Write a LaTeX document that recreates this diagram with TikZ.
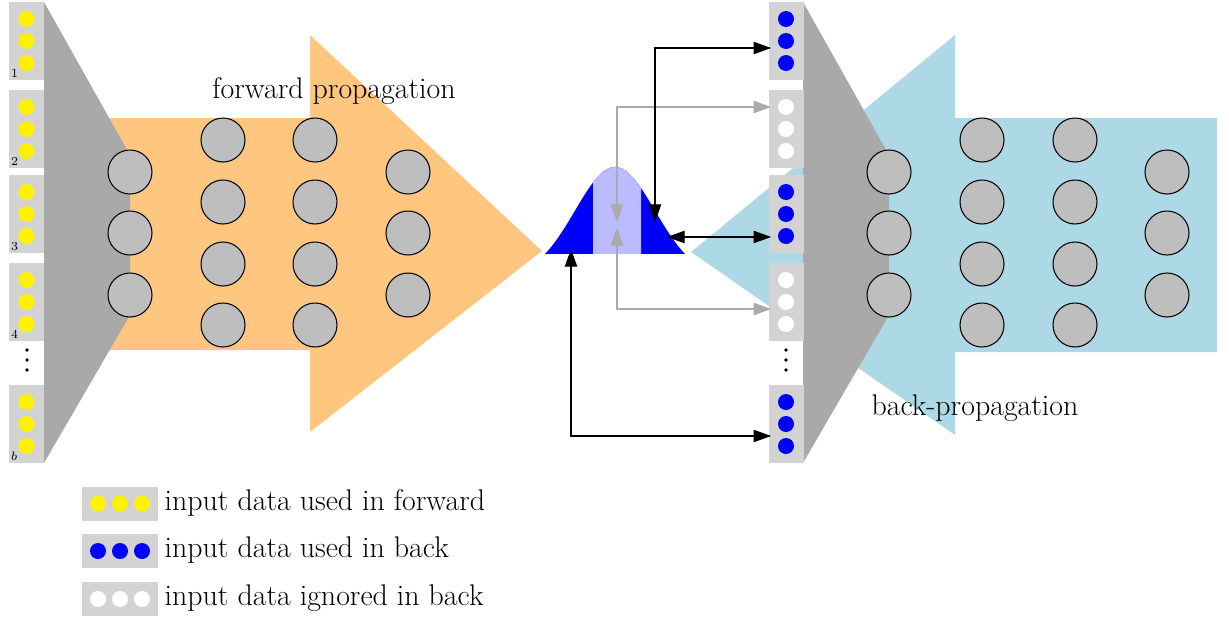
\documentclass[tikz,border=0pt]{standalone}
\usetikzlibrary{arrows.meta,calc}
\definecolor{boxgray}{RGB}{211,211,211}
\definecolor{trapgray}{RGB}{169,169,169}
\definecolor{neurongray}{RGB}{190,190,190}
\definecolor{fwdorange}{RGB}{255,198,128}
\definecolor{backblue}{RGB}{173,216,230}
\definecolor{bandblue}{RGB}{187,187,255}
\definecolor{arrgray}{RGB}{170,170,170}
\begin{document}
\begin{tikzpicture}[x=0.02cm,y=-0.02cm,
  >={Triangle[length=10pt,width=7pt]},
  ibox/.style={fill=boxgray, minimum width=0.7cm, minimum height=1.56cm, inner sep=0},
  lbox/.style={fill=boxgray, minimum width=1.52cm, minimum height=0.68cm, inner sep=0},
  ddot/.style={circle, minimum size=0.32cm, inner sep=0},
  neuron/.style={circle, draw=black, line width=0.6pt, fill=neurongray, minimum size=0.88cm, inner sep=0},
  lbl/.style={font=\fontsize{17}{20}\selectfont, inner sep=0},
  num/.style={font=\fontsize{7}{8}\selectfont, inner sep=0},
  barr/.style={line width=0.6pt, draw=black},
  garr/.style={line width=0.9pt, draw=arrgray}]
\useasboundingbox (0,0) rectangle (1229,619);

% forward arrow
\fill[fwdorange] (60,118) -- (310,118) -- (310,35) -- (542,251) -- (310,432) -- (310,350) -- (60,350) -- cycle;
% back arrow
\fill[backblue] (691,252) -- (955,35) -- (955,118) -- (1217,118) -- (1217,352) -- (955,352) -- (955,435) -- cycle;

% trapezoids
\fill[trapgray] (44,2) -- (130,155) -- (130,315) -- (44,463) -- cycle;
\fill[trapgray] (803,2) -- (889,155) -- (889,315) -- (803,463) -- cycle;

% left input boxes
\foreach \n/\y in {1/41,2/129,3/214,4/302,b/424} {
  \node[ibox] (L\n) at (26.5,\y) {};
  \foreach \k/\dy in {1/-22,2/0,3/22}
    \node[ddot, fill=yellow] (L\n c\k) at ($(L\n)+(0,\dy)$) {};
}
\foreach \n/\t in {1/1,2/2,3/3,4/4,b/$b$}
  \node[num, anchor=base west] (L\n lab) at ($(L\n.south west)+(2,-3)$) {\t};

% right input boxes
\foreach \n/\y/\c in {1/41/blue,2/129/white,3/214/blue,4/302/white,5/424/blue} {
  \node[ibox] (R\n) at (786,\y) {};
  \foreach \k/\dy in {1/-22,2/0,3/22}
    \node[ddot, fill=\c] (R\n c\k) at ($(R\n)+(0,\dy)$) {};
}

% vertical dots
\foreach \yy in {350,360,370} {
  \fill (27,\yy) circle (1.8);
  \fill (786,\yy) circle (1.8);
}

% left network
\foreach \y [count=\i] in {172,233,295} \node[neuron] (fa\i) at (130,\y) {};
\foreach \y [count=\i] in {140,202,264,325} \node[neuron] (fb\i) at (223,\y) {};
\foreach \y [count=\i] in {140,202,264,325} \node[neuron] (fc\i) at (315,\y) {};
\foreach \y [count=\i] in {172,233,295} \node[neuron] (fd\i) at (408,\y) {};
% right network
\foreach \y [count=\i] in {172,233,295} \node[neuron] (ba\i) at (889,\y) {};
\foreach \y [count=\i] in {140,202,264,325} \node[neuron] (bb\i) at (982,\y) {};
\foreach \y [count=\i] in {140,202,264,325} \node[neuron] (bc\i) at (1075,\y) {};
\foreach \y [count=\i] in {172,233,295} \node[neuron] (bd\i) at (1167,\y) {};

\node[lbl, anchor=base] (fwd) at (334,98) {forward propagation};
\node[lbl, anchor=base] (bwd) at (975,415) {back-propagation};

% gaussian
\fill[blue] plot[domain=-70:70, samples=90] ({615+\x}, {254 - 87*(exp(-(\x*\x)/3200) - 0.216)/0.784}) -- cycle;
\fill[bandblue] (593,254) -- plot[domain=-22:26, samples=40] ({615+\x}, {254 - 87*(exp(-(\x*\x)/3200) - 0.216)/0.784}) -- (641,254) -- cycle;

\coordinate (gA) at (655,222);
\coordinate (gB) at (617,222);
\coordinate (gC) at (617,228);
\coordinate (gD) at (667,237);
\coordinate (gE) at (571,249);

% connectors
\draw[garr,<->] (gB) |- ($(R2.west)+(3,-22)$);
\draw[garr,<->] (gC) |- ($(R4.west)+(3,7)$);
\draw[barr,<->] (gA) |- ($(R1.west)+(3,7)$);
\draw[barr,<->] (gD) -- ($(R3.west)+(3,23)$);
\draw[barr,<->] (gE) |- ($(R5.west)+(3,12)$);

% legend
\foreach \n/\y/\c/\t in {1/503.5/yellow/input data used in forward,2/551/blue/input data used in back,3/599/white/input data ignored in back} {
  \node[lbox] (K\n) at (120,\y) {};
  \foreach \k/\dx in {1/-22,2/0,3/22}
    \node[ddot, fill=\c] (K\n c\k) at ($(K\n)+(\dx,0)$) {};
  \node[lbl, anchor=base west] (K\n t) at ($(K\n.east)+(6,6.5)$) {\t};
}
\end{tikzpicture}
\end{document}
